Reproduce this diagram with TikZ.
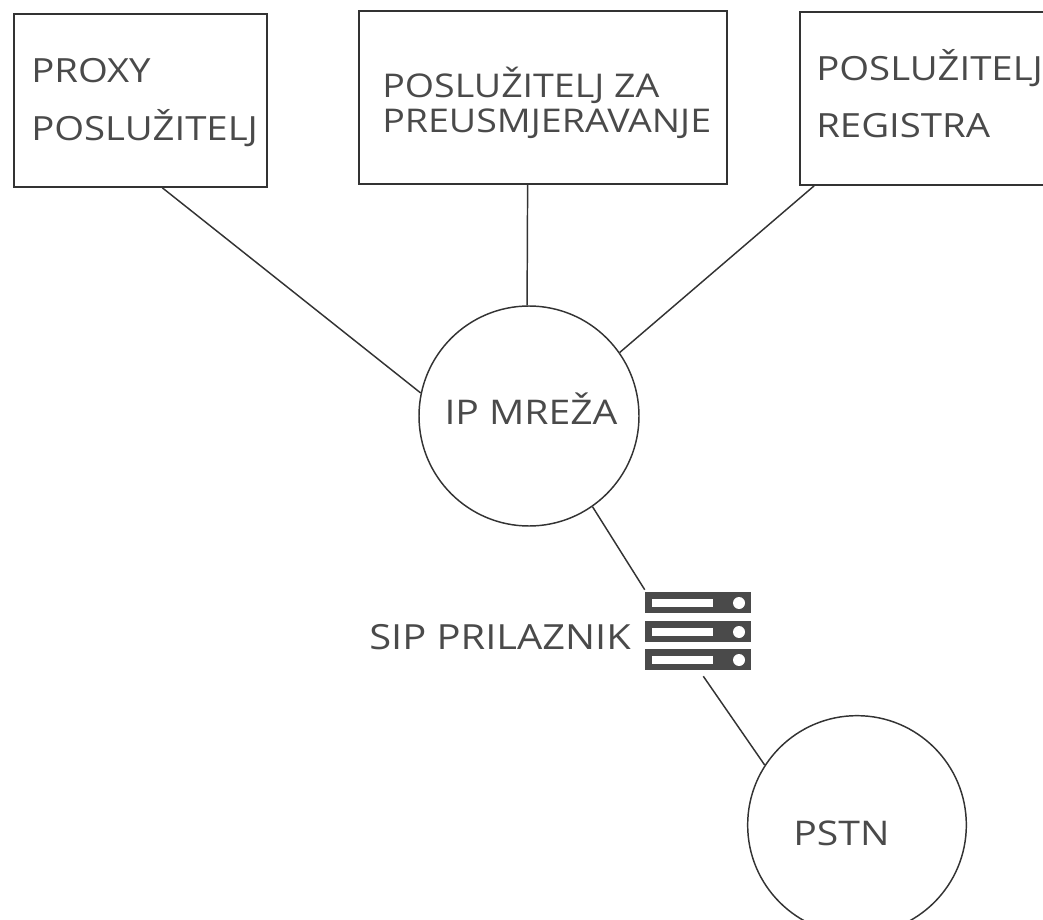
\documentclass[tikz,border=0pt]{standalone}
\usepackage{fontspec}
\setmainfont[FakeStretch=1.15]{Open Sans}
\usetikzlibrary{positioning}
\definecolor{inkgray}{HTML}{333333}
\definecolor{textgray}{HTML}{4A4A4A}
\tikzset{
    serverbox/.style={draw=inkgray,line width=1.1pt,rectangle,inner sep=0pt},
    netcircle/.style={draw=inkgray,line width=1.1pt,circle,inner sep=0pt},
    lbl/.style={text=textgray,align=left,inner sep=0pt,anchor=west},
    link/.style={draw=inkgray,line width=1.1pt}
}
\begin{document}
\begin{tikzpicture}[x=0.75pt,y=-0.75pt]
    \useasboundingbox (0,0) rectangle (1043,920);
    % boxes and clouds
    \node [serverbox,minimum width=189.75pt,minimum height=129.75pt] (proxy) at (140.5,100.5) { };
    \node [serverbox,minimum width=276pt,minimum height=129.75pt] (redirect) at (543,97.5) { };
    \node [serverbox,minimum width=195pt,minimum height=129.75pt] (registrar) at (930,98.5) { };
    \node [netcircle,minimum size=165pt] (ipnet) at (529,416) { };
    \node [netcircle,minimum size=164pt] (pstn) at (857,825) { };
    \node [minimum width=79.5pt,minimum height=64.5pt,inner sep=0pt] (gateway) at (698,633) { };
    % server icon
    \foreach \y in {592,621,649} {
        \fill [textgray] (645,\y) rectangle (751,\y+21);
        \fill [white] (652,\y+7) rectangle (713,\y+15);
        \fill [white] (739,\y+11) circle [radius=4.5pt];
    }
    % texts
    \node [lbl,font=\fontsize{25}{43.5}\selectfont] (proxytext) at (31,102.5) {PROXY\\POSLUŽITELJ};
    \node [lbl,font=\fontsize{24.5}{26.25}\selectfont] (redirecttext) at (382,103) {POSLUŽITELJ ZA\\PREUSMJERAVANJE};
    \node [lbl,font=\fontsize{25}{42.75}\selectfont] (registrartext) at (816,94) {POSLUŽITELJ\\REGISTRA};
    \node [text=textgray,font=\fontsize{25.5}{32}\selectfont,inner sep=0pt] (iptext) at (531,409) {IP MREŽA};
    \node [text=textgray,font=\fontsize{26}{32}\selectfont,inner sep=0pt,anchor=east] (gwtext) at (631,637) {SIP PRILAZNIK};
    \node [text=textgray,font=\fontsize{25.5}{32}\selectfont,inner sep=0pt] (pstntext) at (841.5,833) {PSTN};
    % links
    \draw [link] (proxy.-76.7) -- (ipnet.168);
    \draw [link] (redirect.-100.5) -- (ipnet.91);
    \draw [link] (registrar.-143) -- (ipnet.35.6);
    \draw [link] (ipnet.-55) -- (gateway.north west);
    \draw [link] (gateway.-83.4) -- (pstn.147.4);
\end{tikzpicture}
\end{document}
